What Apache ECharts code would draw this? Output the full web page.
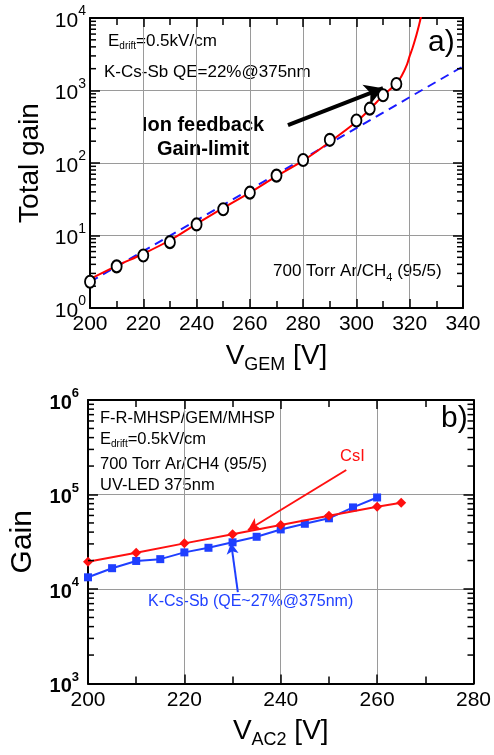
<!DOCTYPE html>
<html><head><meta charset="utf-8">
<script src="https://cdn.jsdelivr.net/npm/echarts@6/dist/echarts.min.js"></script>
<style>html,body{margin:0;padding:0;background:#fff}#c{width:494px;height:755px}</style>
</head><body><div id="c"></div>
<script>
// ---------- Panel a) ----------
const vGemMeasured = [200,210,220,230,240,250,260,270,280,290,300,305,310,315];
const gainMeasured = [2.3,3.75,5.3,8.1,14.2,23,39,67,110,209,386,562,860,1230];
const vGemFit = [200,210,220,230,240,250,260,270,280,290,300,305,310,315,317,319,320,321,322,323,324,325];
const gainFit = [2.5,3.8,5.6,8.6,14.5,24,39,66,108,195,370,550,850,1250,1600,2300,3000,3800,5000,6800,9500,13500];
const vGemExp = [200,340];
const gainExp = [2.3,2150];
const xTicksA = [200,220,240,260,280,300,320,340];
const yDecadesA = [1,10,100,1000,10000];
const arrowA = [[274.3,334],[310,1075]];
// ---------- Panel b) ----------
const vAc2Kcssb = [200,205,210,215,220,225,230,235,240,245,250,255,260];
const gainKcssb = [13300,16600,19800,20700,24400,27300,31200,35700,42700,49000,56000,73000,93000];
const vAc2Csi = [200,210,220,230,240,250,260,265];
const gainCsi = [19400,24200,30400,37900,47500,59700,74300,81800];
const xTicksB = [200,220,240,260,280];
const yDecadesB = [1000,10000,100000,1000000];
const arrowCsi = [[253.6,181600],[233.2,42100]];
const arrowKcssb = [[231.1,9290],[229.7,30700]];

const FONT = "'Liberation Sans', Arial, sans-serif";
const zip = (a,b) => a.map((v,i)=>[v,b[i]]);
function logMinors(decades){
  const out=[];
  for(let i=0;i<decades.length-1;i++) for(let k=2;k<=9;k++) out.push(decades[i]*k);
  return out;
}
const supLabel = (bold, size, supSize, pad) => ({
  formatter: v => '{b|10}{s|' + Math.round(Math.log10(v)) + '}',
  rich: {
    b: {fontSize: size, fontFamily: FONT, fontWeight: bold?'bold':'normal', color:'#000', verticalAlign:'top', padding:[pad,0,0,0]},
    s: {fontSize: supSize, fontFamily: FONT, fontWeight: bold?'bold':'normal', color:'#000', verticalAlign:'top'}
  }
});

function minorTickSeries(xi, yi, xmin, values, len){
  return {
    type:'custom', xAxisIndex:xi, yAxisIndex:yi, silent:true, z:5, clip:false,
    data: values.map(v=>[xmin, v]),
    encode:{x:0,y:1},
    renderItem:(params, api) => {
      const cs = params.coordSys;
      const y = api.coord([api.value(0), api.value(1)])[1];
      return {type:'group', children:[
        {type:'line', shape:{x1:cs.x, y1:y, x2:cs.x+len, y2:y}, style:{stroke:'#000', lineWidth:1.5}},
        {type:'line', shape:{x1:cs.x+cs.width-len, y1:y, x2:cs.x+cs.width, y2:y}, style:{stroke:'#000', lineWidth:1.5}}
      ]};
    }
  };
}

const axisLine = {show:true, lineStyle:{color:'#000', width:2}};
const split = {show:true, lineStyle:{color:'#9a9a9a', width:1}};

function xAxes(gi, ticks, nameRich, nameGap){
  const min = ticks[0], max = ticks[ticks.length-1], interval = ticks[1]-ticks[0];
  return [
    {type:'value', gridIndex:gi, min, max, interval, position:'bottom',
     axisLine, splitLine:split,
     axisTick:{show:true, inside:true, length:9, lineStyle:{color:'#000', width:1.5}},
     minorTick:{show:true, splitNumber:2, length:7, lineStyle:{color:'#000', width:1.5}},
     axisLabel:{fontSize:21, fontFamily:FONT, color:'#000', margin:6, showMinLabel:true, showMaxLabel:true},
     name: nameRich.text, nameLocation:'middle', nameGap,
     nameTextStyle:{rich:nameRich.rich, color:'#000'}},
    {type:'value', gridIndex:gi, min, max, interval, position:'top',
     axisLine, splitLine:{show:false},
     axisTick:{show:true, inside:true, length:9, lineStyle:{color:'#000', width:1.5}},
     minorTick:{show:true, splitNumber:2, length:7, lineStyle:{color:'#000', width:1.5}},
     axisLabel:{show:false}}
  ];
}
function yAxes(gi, decades, labelCfg, margin, name, nameGap, nameSize){
  const min = decades[0], max = decades[decades.length-1];
  return [
    {type:'log', logBase:10, gridIndex:gi, min, max, splitNumber:decades.length-1, position:'left',
     axisLine, splitLine:split,
     axisTick:{show:true, inside:true, length:10, lineStyle:{color:'#000', width:1.5}},
     axisLabel:Object.assign({margin}, labelCfg),
     name, nameLocation:'middle', nameGap, nameRotate:90,
     nameTextStyle:{fontSize:nameSize, fontFamily:FONT, color:'#000'}},
    {type:'log', logBase:10, gridIndex:gi, min, max, splitNumber:decades.length-1, position:'right',
     axisLine, splitLine:{show:false},
     axisTick:{show:true, inside:true, length:10, lineStyle:{color:'#000', width:1.5}},
     axisLabel:{show:false}}
  ];
}

const sub = (size, subSize, drop, color) => ({
  m:{fontSize:size, fontFamily:FONT, color:color||'#000', verticalAlign:'top', padding:[0,0,0,0]},
  s:{fontSize:subSize, fontFamily:FONT, color:color||'#000', verticalAlign:'top', padding:[drop,0,0,0]}
});

const option = {
  backgroundColor:'#fff',
  animation:false,
  grid:[
    {left:90, top:18, width:373, height:290},
    {left:83, top:400, width:391, height:283.5}
  ],
  xAxis:[
    ...xAxes(0, xTicksA, {text:'{m|V}{s|GEM}{m| [V]}', rich:sub(28,18,14)}, 34),
    ...xAxes(1, xTicksB, {text:'{m|V}{s|AC2}{m| [V]}', rich:sub(28,18,14)}, 34)
  ],
  yAxis:[
    ...yAxes(0, yDecadesA, supLabel(false, 21, 14, 6), 4, 'Total gain', 46, 28),
    ...yAxes(1, yDecadesB, supLabel(true, 20, 13, 6), 9, 'Gain', 50, 30)
  ],
  series:[
    {type:'line', xAxisIndex:0, yAxisIndex:0, data:zip(vGemExp,gainExp), showSymbol:false,
     lineStyle:{color:'#1a1aff', width:2, type:[9,6]}, z:3},
    {type:'line', xAxisIndex:0, yAxisIndex:0, data:zip(vGemFit,gainFit), showSymbol:false, smooth:0.3,
     lineStyle:{color:'#ff0000', width:2}, z:4,
     markLine:{silent:true, symbol:['none','arrow'], symbolSize:[16,18],
       lineStyle:{color:'#000', width:4, type:'solid'}, label:{show:false},
       data:[[{coord:arrowA[0]},{coord:arrowA[1]}]]}},
    {type:'scatter', xAxisIndex:0, yAxisIndex:0, data:zip(vGemMeasured,gainMeasured),
     symbol:'circle', symbolSize:[10,12],
     itemStyle:{color:'#ffffff', opacity:1, borderColor:'#000', borderWidth:2}, z:6},
    minorTickSeries(0, 0, xTicksA[0], logMinors(yDecadesA), 6),

    {type:'line', xAxisIndex:2, yAxisIndex:2, data:zip(vAc2Kcssb,gainKcssb),
     symbol:'rect', symbolSize:8, lineStyle:{color:'#1f3fff', width:2},
     itemStyle:{color:'#1f3fff'}, z:3,
     markLine:{silent:true, symbol:['none','arrow'], symbolSize:[9,11],
       lineStyle:{color:'#1f3fff', width:2, type:'solid'}, label:{show:false},
       data:[[{coord:arrowKcssb[0]},{coord:arrowKcssb[1]}]]}},
    {type:'line', xAxisIndex:2, yAxisIndex:2, data:zip(vAc2Csi,gainCsi),
     symbol:'diamond', symbolSize:10, lineStyle:{color:'#ff1010', width:2},
     itemStyle:{color:'#ff1010'}, z:4,
     markLine:{silent:true, symbol:['none','arrow'], symbolSize:[10,12],
       lineStyle:{color:'#ff1010', width:2, type:'solid'}, label:{show:false},
       data:[[{coord:arrowCsi[0]},{coord:arrowCsi[1]}]]}},
    minorTickSeries(2, 2, xTicksB[0], logMinors(yDecadesB), 6)
  ],
  graphic:[
    {type:'text', x:108, y:42, style:{text:'{m|E}{s|drift}{m|=0.5kV/cm}', rich:sub(17,10,9), verticalAlign:'middle'}},
    {type:'text', x:104, y:72, style:{text:'K-Cs-Sb QE=22%@375nm', font:'17px '+FONT, fill:'#000', verticalAlign:'middle'}},
    {type:'text', x:428, y:43, style:{text:'a)', font:'30px '+FONT, fill:'#000', verticalAlign:'middle'}},
    {type:'text', x:203, y:125, style:{text:'Ion feedback', font:'bold 20px '+FONT, fill:'#000', align:'center', verticalAlign:'middle'}},
    {type:'text', x:203, y:149, style:{text:'Gain-limit', font:'bold 20px '+FONT, fill:'#000', align:'center', verticalAlign:'middle'}},
    {type:'text', x:273, y:273, style:{text:'{m|700 Torr Ar/CH}{s|4}{m| (95/5)}', rich:sub(17,11,9), verticalAlign:'middle'}},

    {type:'text', x:100, y:418, style:{text:'F-R-MHSP/GEM/MHSP', font:'16.5px '+FONT, fill:'#000', verticalAlign:'middle'}},
    {type:'text', x:100, y:440, style:{text:'{m|E}{s|drift}{m|=0.5kV/cm}', rich:sub(16.5,10,9), verticalAlign:'middle'}},
    {type:'text', x:100, y:464, style:{text:'700 Torr Ar/CH4 (95/5)', font:'16.5px '+FONT, fill:'#000', verticalAlign:'middle'}},
    {type:'text', x:100, y:485, style:{text:'UV-LED 375nm', font:'16.5px '+FONT, fill:'#000', verticalAlign:'middle'}},
    {type:'text', x:441, y:419, style:{text:'b)', font:'30px '+FONT, fill:'#000', verticalAlign:'middle'}},
    {type:'text', x:340, y:456, style:{text:'CsI', font:'16.5px '+FONT, fill:'#ff1010', verticalAlign:'middle'}},
    {type:'text', x:148, y:602, style:{text:'K-Cs-Sb (QE~27%@375nm)', font:'16px '+FONT, fill:'#1f3fff', verticalAlign:'middle'}}
  ]
};
const chart = echarts.init(document.getElementById('c'), null, {renderer:'canvas'});
chart.setOption(option);
</script></body></html>
